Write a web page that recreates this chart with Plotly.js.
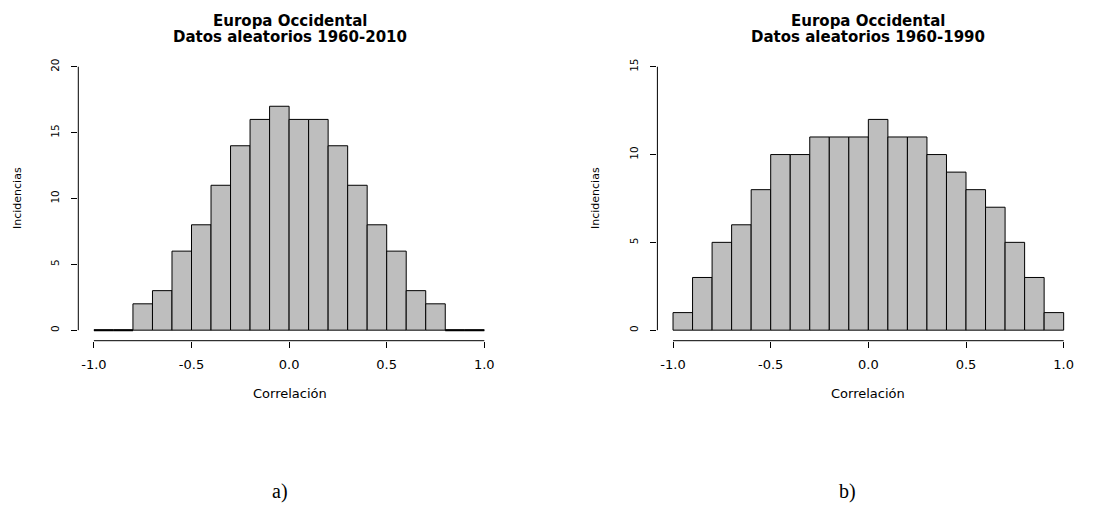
<!DOCTYPE html>
<html>
<head>
<meta charset="utf-8">
<script src="https://cdn.plot.ly/plotly-3.0.1.min.js"></script>
<style>html,body{margin:0;padding:0;background:#fff;}#chart{width:1106px;height:505px;}</style>
</head>
<body>
<div id="chart"></div>
<script>
// Bin centres (bin width 0.1 from -1.0 to 1.0)
const binCenters = [-0.95, -0.85, -0.75, -0.65, -0.55, -0.45, -0.35, -0.25, -0.15, -0.05,
                     0.05,  0.15,  0.25,  0.35,  0.45,  0.55,  0.65,  0.75,  0.85,  0.95];
// a) Europa Occidental, 1960-2010
const countsA = [0, 0, 2, 3, 6, 8, 11, 14, 16, 17, 16, 16, 14, 11, 8, 6, 3, 2, 0, 0];
// b) Europa Occidental, 1960-1990
const countsB = [1, 3, 5, 6, 8, 10, 10, 11, 11, 11, 12, 11, 11, 10, 9, 8, 7, 5, 3, 1];
const binWidth = 0.1;

const xTickVals = [-1, -0.5, 0, 0.5, 1];
const xTickText = ['-1.0', '-0.5', '0.0', '0.5', '1.0'];
const yTicksA = [0, 5, 10, 15, 20];
const yTicksB = [0, 5, 10, 15];

const titleLine1 = 'Europa Occidental';
const titleA = 'Datos aleatorios 1960-2010';
const titleB = 'Datos aleatorios 1960-1990';
const xLabel = 'Correlación';
const yLabel = 'Incidencias';

const W = 1106, H = 505;
const px = v => v / W;
const py = v => 1 - v / H;

function barTrace(counts, xa, ya) {
  return {
    type: 'bar', x: binCenters, y: counts, width: binWidth,
    xaxis: xa, yaxis: ya,
    marker: {color: '#BEBEBE', line: {color: '#000', width: 1}},
    hoverinfo: 'x+y'
  };
}
function zeroTrace(counts, xa, ya) {
  const xs = [], ys = [];
  counts.forEach((c, i) => {
    if (c === 0) {
      xs.push(binCenters[i] - binWidth / 2, binCenters[i] + binWidth / 2, null);
      ys.push(0, 0, null);
    }
  });
  return {type: 'scatter', mode: 'lines', x: xs, y: ys, xaxis: xa, yaxis: ya,
          line: {color: '#000', width: 2}, hoverinfo: 'skip', connectgaps: false};
}

const data = [
  barTrace(countsA, 'x', 'y'), zeroTrace(countsA, 'x', 'y'),
  barTrace(countsB, 'x2', 'y2')
];

const axFont = {family: 'DejaVu Sans', size: 13, color: '#000'};
const yFont = {family: 'DejaVu Sans', size: 10.5, color: '#000'};
const yDomain = [py(340.7), py(56.2)];

function xAxis(domain, anchor) {
  return {domain: domain, anchor: anchor, range: [-1.08, 1.08], tickvals: xTickVals, ticktext: xTickText,
          showgrid: false, zeroline: false, showline: false, ticks: 'outside', ticklen: 6,
          tickcolor: '#000', tickwidth: 1, tickfont: axFont, ticklabelstandoff: 6, fixedrange: true};
}
function yAxis(range, ticks, anchor) {
  return {domain: yDomain, anchor: anchor, range: range, tickvals: ticks, tickangle: -90,
          showgrid: false, zeroline: false, showline: false, ticks: 'outside', ticklen: 6,
          tickcolor: '#000', tickwidth: 1, tickfont: yFont, ticklabelstandoff: 8, fixedrange: true};
}

const shapes = [
  {type: 'line', xref: 'x', yref: 'y domain', x0: -1, x1: 1, y0: 0, y1: 0, line: {color: '#000', width: 1}},
  {type: 'line', xref: 'x domain', yref: 'y', x0: 0, x1: 0, y0: 0, y1: 20, line: {color: '#000', width: 1}},
  {type: 'line', xref: 'x2', yref: 'y2 domain', x0: -1, x1: 1, y0: 0, y1: 0, line: {color: '#000', width: 1}},
  {type: 'line', xref: 'x2 domain', yref: 'y2', x0: 0, x1: 0, y0: 0, y1: 15, line: {color: '#000', width: 1}}
];

const tFont = {family: 'DejaVu Sans', size: 15, color: '#000', weight: 'bold'};
const lFont = {family: 'DejaVu Sans', size: 13, color: '#000'};
const yLFont = {family: 'DejaVu Sans', size: 11, color: '#000'};
const sFont = {family: 'Liberation Serif', size: 20, color: '#000'};
function ann(text, x, y, font, extra) {
  return Object.assign({text: text, xref: 'paper', yref: 'paper', x: px(x), y: py(y),
    xanchor: 'center', yanchor: 'middle', showarrow: false, font: font}, extra || {});
}
const annotations = [
  ann(titleLine1, 290, 20.7, tFont), ann(titleA, 290, 37.3, tFont),
  ann(titleLine1, 868, 20.7, tFont), ann(titleB, 868, 37.3, tFont),
  ann(xLabel, 290, 393, lFont), ann(xLabel, 868, 393, lFont),
  ann(yLabel, 17, 198, yLFont, {textangle: -90}), ann(yLabel, 595, 198, yLFont, {textangle: -90}),
  ann('a)', 280, 491, sFont), ann('b)', 847, 491, sFont)
];

const layout = {
  width: W, height: H, margin: {l: 0, r: 0, t: 0, b: 0},
  paper_bgcolor: '#fff', plot_bgcolor: '#fff', showlegend: false, bargap: 0,
  xaxis: xAxis([px(78.3), px(499.9)], 'y'),
  yaxis: yAxis([-0.8, 20.8], yTicksA, 'x'),
  xaxis2: xAxis([px(657.4), px(1079.3)], 'y2'),
  yaxis2: yAxis([-0.6, 15.6], yTicksB, 'x2'),
  shapes: shapes, annotations: annotations
};

Plotly.newPlot('chart', data, layout, {displayModeBar: false, staticPlot: true});
</script>
</body>
</html>
